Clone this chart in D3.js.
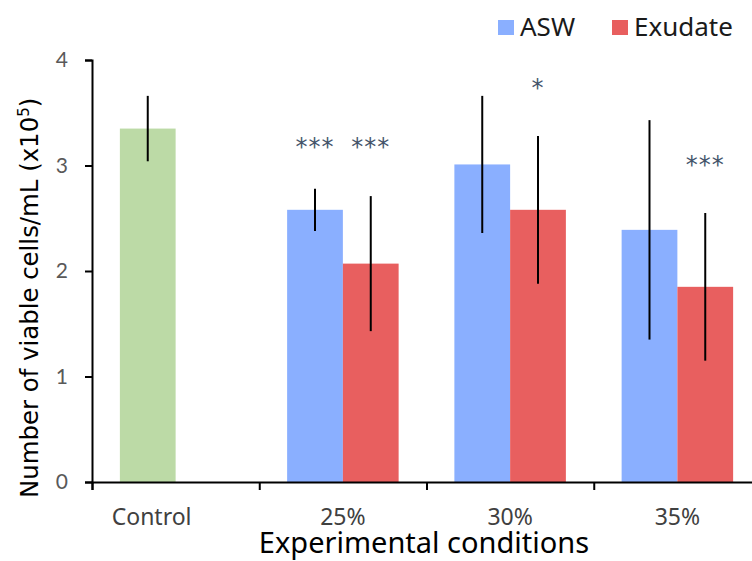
<!DOCTYPE html>
<html>
<head>
<meta charset="utf-8">
<script src="https://cdn.jsdelivr.net/npm/d3@7"></script>
<style>
  body { margin: 0; background: #fff; }
  svg { display: block; }
</style>
</head>
<body>
<svg id="chart" width="752" height="561"></svg>
<script>
// data
var categories = ["Control", "25%", "30%", "35%"];
var seriesNames = ["ASW", "Exudate"];
var controlValue = 3.35, controlErr = 0.31;
var aswValues = [null, 2.58, 3.01, 2.39];
var aswErr = [null, 0.20, 0.65, 1.04];
var exuValues = [null, 2.07, 2.58, 1.85];
var exuErr = [null, 0.64, 0.70, 0.70];
var yTicks = [0, 1, 2, 3, 4];
// significance marks: [category, series index, label]
var stars = [["25%", 0, "***"], ["25%", 1, "***"], ["30%", 1, "*"], ["35%", 1, "***"]];

var colors = { ASW: "#8aafff", Exudate: "#e85f5f", Control: "#bcdaa6" };

var svg = d3.select("#chart");
var x0 = 92, x1 = 761, yTop = 60, yBot = 482;

var x = d3.scaleBand().domain(categories).range([x0, x1]).paddingInner(0);
var bw = x.bandwidth() / 3;
var y = d3.scaleLinear().domain([0, 4]).range([yBot, yTop]);

// build bar table
var bars = [{ cat: "Control", slot: 0, v: controlValue, e: controlErr, color: colors.Control }];
categories.forEach(function (c, i) {
  if (aswValues[i] != null) bars.push({ cat: c, slot: 0, v: aswValues[i], e: aswErr[i], color: colors.ASW });
  if (exuValues[i] != null) bars.push({ cat: c, slot: 1, v: exuValues[i], e: exuErr[i], color: colors.Exudate });
});
function barX(d) { return x(d.cat) + bw / 2 + d.slot * bw; }

svg.append("g").selectAll("rect")
  .data(bars).enter().append("rect")
  .attr("x", barX)
  .attr("width", bw)
  .attr("y", function (d) { return y(d.v); })
  .attr("height", function (d) { return y(0) - y(d.v); })
  .attr("fill", function (d) { return d.color; });

// error bars (no caps)
svg.append("g").selectAll("line")
  .data(bars).enter().append("line")
  .attr("x1", function (d) { return barX(d) + bw / 2; })
  .attr("x2", function (d) { return barX(d) + bw / 2; })
  .attr("y1", function (d) { return y(d.v + d.e); })
  .attr("y2", function (d) { return y(d.v - d.e); })
  .attr("stroke", "#000").attr("stroke-width", 2);

// y axis
var yAxis = svg.append("g").attr("transform", "translate(" + x0 + ",0)")
  .call(d3.axisLeft(y).tickValues(yTicks).tickSize(7).tickPadding(17).tickFormat(d3.format("d")));
yAxis.select(".domain").attr("stroke", "#000").attr("stroke-width", 2);
yAxis.selectAll(".tick line").attr("stroke", "#000").attr("stroke-width", 2);
yAxis.selectAll(".tick text")
  .attr("fill", "#595959").style("font-family", "Lato").style("font-size", "21px");

// x axis: ticks at band edges
var xEdge = d3.scaleLinear().domain([0, categories.length]).range([x0, x1]);
var xAxis = svg.append("g").attr("transform", "translate(0," + yBot + ")")
  .call(d3.axisBottom(xEdge).ticks(categories.length).tickSize(8).tickFormat(""));
xAxis.select(".domain").attr("stroke", "#000").attr("stroke-width", 2);
xAxis.selectAll(".tick line").attr("stroke", "#000").attr("stroke-width", 2);

// category labels (Control label sits under its bar, left of band centre)
svg.append("g").selectAll("text")
  .data(categories).enter().append("text")
  .attr("x", function (d, i) { return x(d) + x.bandwidth() / 2 - (i === 0 ? 24 : 0); })
  .attr("y", 525)
  .attr("text-anchor", "middle")
  .attr("fill", "#404040")
  .style("font-family", "Noto Sans").style("font-size", "23px")
  .text(function (d) { return d; });

// axis titles
svg.append("text")
  .attr("x", 424).attr("y", 553)
  .attr("text-anchor", "middle")
  .attr("fill", "#000")
  .style("font-family", "Noto Sans").style("font-size", "29px")
  .text("Experimental conditions");

var yl = svg.append("text")
  .attr("transform", "translate(38,498) rotate(-90)")
  .attr("text-anchor", "start")
  .attr("fill", "#000")
  .style("font-family", "DejaVu Sans").style("font-size", "24.4px");
yl.append("tspan").text("Number of viable cells/mL (x10");
yl.append("tspan").attr("dy", -9).style("font-size", "15px").text("5");
yl.append("tspan").attr("dy", 9).text(")");

// significance stars
svg.append("g").selectAll("text")
  .data(stars).enter().append("text")
  .attr("x", function (d) { return x(d[0]) + bw / 2 + d[1] * bw + bw / 2; })
  .attr("y", function (d) {
    var i = categories.indexOf(d[0]);
    var v = d[1] === 0 ? aswValues[i] + aswErr[i] : exuValues[i] + exuErr[i];
    return d[0] === "25%" ? 155 : y(v) - 40;
  })
  .attr("text-anchor", "middle")
  .attr("fill", "#44546a")
  .style("font-family", "DejaVu Sans").style("font-size", "24px")
  .style("letter-spacing", "1px")
  .text(function (d) { return d[2]; });

// legend
var legend = svg.append("g").selectAll("g")
  .data(seriesNames).enter().append("g")
  .attr("transform", function (d, i) { return "translate(" + (498 + i * 114) + ",0)"; });
legend.append("rect").attr("x", 0).attr("y", 20).attr("width", 16).attr("height", 15)
  .attr("fill", function (d) { return colors[d]; });
legend.append("text").attr("x", 22).attr("y", 36)
  .attr("fill", "#1a1a1a")
  .style("font-family", "Noto Sans").style("font-size", "26px")
  .text(function (d) { return d; });
</script>
</body>
</html>
